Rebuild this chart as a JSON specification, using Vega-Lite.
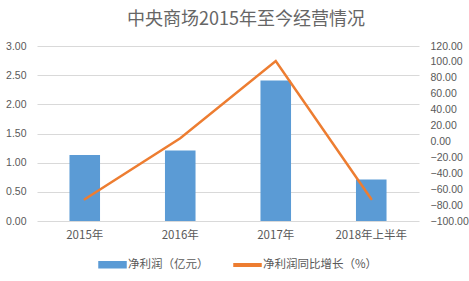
{
  "$schema": "https://vega.github.io/schema/vega-lite/v6.json",
  "autosize": {"type": "none"},
  "width": 382,
  "height": 175,
  "padding": {"left": 37, "top": 46, "right": 50, "bottom": 60},
  "background": "white",
  "title": {
    "text": "中央商场2015年至今经营情况",
    "font": "Noto Sans CJK SC",
    "fontSize": 18,
    "fontWeight": "normal",
    "color": "#666666",
    "anchor": "middle",
    "dx": 18,
    "offset": 12
  },
  "data": {
    "values": [
      {"period": "2015年", "profit": 1.13, "growth": -72.7},
      {"period": "2016年", "profit": 1.21, "growth": 4.0},
      {"period": "2017年", "profit": 2.41, "growth": 101.0},
      {"period": "2018年上半年", "profit": 0.71, "growth": -72.3}
    ]
  },
  "config": {
    "view": {"stroke": null},
    "axis": {
      "labelFont": "Liberation Sans",
      "labelFontSize": 10.5,
      "labelColor": "#595959",
      "domain": false,
      "ticks": false
    },
    "legend": {
      "labelFont": "Noto Sans CJK SC",
      "labelFontSize": 11.5,
      "labelColor": "#595959"
    }
  },
  "encoding": {
    "x": {
      "field": "period",
      "type": "nominal",
      "sort": null,
      "scale": {"paddingInner": 0.68, "paddingOuter": 0.34},
      "axis": {
        "title": null,
        "labelAngle": 0,
        "labelPadding": 8,
        "labelFont": "Noto Sans CJK SC",
        "labelFontSize": 11.5,
        "grid": false
      }
    }
  },
  "layer": [
    {
      "mark": {"type": "bar", "color": "#5B9BD5"},
      "transform": [{"calculate": "'净利润（亿元）'", "as": "series"}],
      "encoding": {
        "y": {
          "field": "profit",
          "type": "quantitative",
          "scale": {"domain": [0, 3], "nice": false},
          "axis": {
            "title": null,
            "values": [0, 0.5, 1, 1.5, 2, 2.5, 3],
            "format": ".2f",
            "grid": true,
            "gridColor": "#D9D9D9",
            "labelPadding": 11
          }
        },
        "color": {
          "field": "series",
          "type": "nominal",
          "scale": {"domain": ["净利润（亿元）", "净利润同比增长（%）"], "range": ["#5B9BD5", "#ED7D31"]},
          "legend": {
            "orient": "none",
            "legendX": 61,
            "legendY": 204,
            "direction": "horizontal",
            "title": null,
            "columnPadding": 22,
            "labelOffset": 1,
            "symbolSize": 729,
            "encode": {
              "symbols": {
                "update": {
                  "shape": {"signal": "datum.value === '净利润（亿元）' ? 'M-1,-0.22H1V0.22H-1Z' : 'M-1,-0.095H1V0.095H-1Z'"},
                  "fill": {"signal": "datum.value === '净利润（亿元）' ? '#5B9BD5' : '#ED7D31'"},
                  "stroke": {"value": "transparent"},
                  "opacity": {"value": 1}
                }
              }
            }
          }
        }
      }
    },
    {
      "mark": {"type": "line", "strokeWidth": 2.5, "strokeCap": "round"},
      "transform": [{"calculate": "'净利润同比增长（%）'", "as": "series"}],
      "encoding": {
        "y": {
          "field": "growth",
          "type": "quantitative",
          "scale": {"domain": [-100, 120], "nice": false},
          "axis": {
            "title": null,
            "orient": "right",
            "values": [-100, -80, -60, -40, -20, 0, 20, 40, 60, 80, 100, 120],
            "format": ".2f",
            "grid": false,
            "labelPadding": 11
          }
        },
        "color": {"field": "series", "type": "nominal"}
      }
    }
  ],
  "resolve": {"scale": {"y": "independent"}}
}
